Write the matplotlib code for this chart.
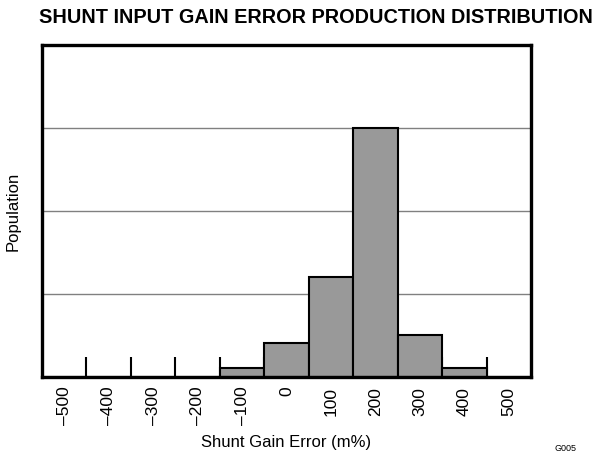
import matplotlib.pyplot as plt
from matplotlib.ticker import FixedLocator, NullFormatter

# Histogram bins (m%) and their relative population
bin_centers = [-500, -400, -300, -200, -100, 0, 100, 200, 300, 400, 500]
population = [0, 0, 0, 0, 0.11, 0.41, 1.2, 3.0, 0.51, 0.11, 0]
tick_labels = ["\u2013500", "\u2013400", "\u2013300", "\u2013200", "\u2013100",
               "0", "100", "200", "300", "400", "500"]
bin_edges = [-450, -350, -250, -150, -50, 50, 150, 250, 350, 450]

plt.rcParams['font.family'] = ['Liberation Sans', 'DejaVu Sans']

fig = plt.figure(figsize=(6.06, 4.58), dpi=100)
ax = fig.add_axes([0.0693, 0.1769, 0.8069, 0.7248])

ax.bar(bin_centers, population, width=100, color='#999999',
       edgecolor='black', linewidth=1.5, zorder=2)

ax.set_xlim(-550, 550)
ax.set_ylim(0, 4)
ax.set_axisbelow(True)

# bin edges as inward major ticks, labels on the bin centers
ax.xaxis.set_major_locator(FixedLocator(bin_edges))
ax.xaxis.set_major_formatter(NullFormatter())
ax.tick_params(axis='x', which='major', direction='in', length=14.5,
               width=1.5, color='black')
ax.set_xticks(bin_centers, minor=True)
ax.set_xticklabels(tick_labels, minor=True, rotation=90, fontsize=12.5)
ax.tick_params(axis='x', which='minor', length=0, pad=7)

ax.set_yticks([1, 2, 3])
ax.set_yticklabels([])
ax.tick_params(axis='y', length=0)
ax.yaxis.grid(True, color='#808080', linewidth=1.0)

for s in ax.spines.values():
    s.set_linewidth(2.4)
    s.set_zorder(3)

ax.set_xlabel('Shunt Gain Error (m%)', fontsize=12, labelpad=7)
ax.set_ylabel('Population', fontsize=12, labelpad=12)

fig.text(0.522, 0.962, 'SHUNT INPUT GAIN ERROR PRODUCTION DISTRIBUTION',
         ha='center', va='center', fontsize=14.3, fontweight='bold')
fig.text(0.933, 0.02, 'G005', ha='center', va='center', fontsize=6.5)

fig.savefig('out.png', dpi=100)
